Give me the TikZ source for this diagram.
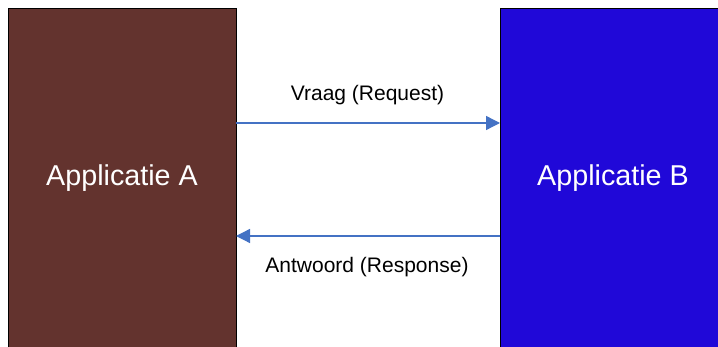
\documentclass[tikz,border=0pt]{standalone}
\usepackage{fontspec}
\setmainfont{Liberation Sans}
\usetikzlibrary{arrows.meta}
\definecolor{appbrown}{RGB}{99,51,46}
\definecolor{appblue}{RGB}{32,8,216}
\definecolor{msgblue}{RGB}{68,114,196}
\begin{document}
\begin{tikzpicture}[x=1pt,y=-1pt,
  appbox/.style={draw=black,line width=1pt,minimum width=228pt,minimum height=380pt,
    inner sep=0pt,outer sep=0pt,anchor=north west},
  applabel/.style={text=white,font=\fontsize{28.7pt}{34pt}\selectfont},
  msg/.style={draw=msgblue,line width=1.3pt,-{Triangle[length=14pt,width=14pt]}},
  msglabel/.style={font=\fontsize{21pt}{25pt}\selectfont,text=black}]
  \useasboundingbox (0,0) rectangle (718,347);
  \fill[white] (0,0) rectangle (718,347);
  % the two applications
  \node[appbox,fill=appbrown] (A) at (8,9) {};
  \node[appbox,fill=appblue,minimum width=240pt] (B) at (500,9) {};
  \node[applabel] (labA) at (122,178) {Applicatie A};
  \node[applabel] (labB) at (613,178) {Applicatie B};
  % request / response endpoints on the box edges
  \coordinate (reqS) at (A.east |- 0,123);
  \coordinate (reqE) at (B.west |- 0,123);
  \coordinate (resS) at (B.west |- 0,236);
  \coordinate (resE) at (A.east |- 0,236);
  \draw[msg] (reqS) -- (reqE);
  \draw[msg] (resS) -- (resE);
  \node[msglabel] (req) at (367.5,95) {Vraag (Request)};
  \node[msglabel] (res) at (367,267) {Antwoord (Response)};
\end{tikzpicture}
\end{document}
